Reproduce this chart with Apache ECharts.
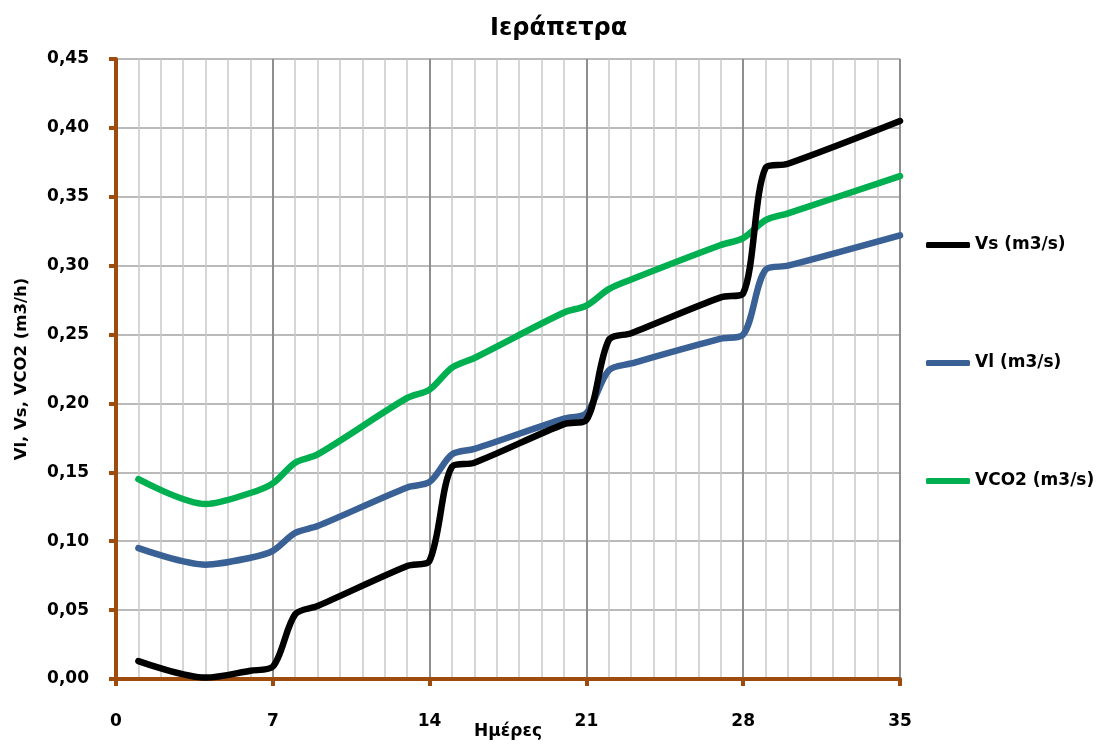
<!DOCTYPE html>
<html>
<head>
<meta charset="utf-8">
<script src="https://cdn.jsdelivr.net/npm/echarts@6/dist/echarts.min.js"></script>
<style>
  html, body { margin: 0; padding: 0; background: #fff; }
  #chart { width: 1102px; height: 745px; }
</style>
</head>
<body>
<div id="chart"></div>
<script>
// Measurement days
const days = [1, 4, 6, 7, 8, 9, 13, 14, 15, 16, 20, 21, 22, 23, 27, 28, 29, 30, 35];

// Flow rates per day
const vs   = [0.013, 0.001, 0.006, 0.009, 0.047, 0.053, 0.082, 0.086, 0.154, 0.157, 0.185, 0.188, 0.246, 0.251, 0.277, 0.280, 0.371, 0.374, 0.405];
const vl   = [0.095, 0.083, 0.088, 0.093, 0.106, 0.111, 0.139, 0.143, 0.163, 0.167, 0.189, 0.193, 0.224, 0.229, 0.247, 0.250, 0.297, 0.300, 0.322];
const vco2 = [0.145, 0.127, 0.135, 0.142, 0.157, 0.163, 0.204, 0.210, 0.226, 0.233, 0.266, 0.271, 0.283, 0.290, 0.315, 0.320, 0.333, 0.338, 0.365];

const seriesNames = ['Vs (m3/s)', 'Vl (m3/s)', 'VCO2 (m3/s)'];
const seriesColors = ['#000000', '#3A6195', '#00B050'];
const seriesValues = [vs, vl, vco2];

const titleText = 'Ιεράπετρα';
const xName = 'Ημέρες';
const yName = 'Vl, Vs, VCO2 (m3/h)';

const FONT = '"DejaVu Sans", sans-serif';
const BROWN = '#9E4C0E';

const chart = echarts.init(document.getElementById('chart'), null, { renderer: 'canvas' });

const option = {
  animation: false,
  backgroundColor: '#ffffff',
  title: {
    text: titleText,
    left: 485,
    top: 12,
    textStyle: { fontFamily: FONT, fontSize: 24, fontWeight: 'bold', color: '#000' }
  },
  legend: {
    orient: 'vertical',
    left: 921,
    top: 230,
    itemGap: 98,
    icon: 'roundRect',
    itemWidth: 44,
    itemHeight: 6,
    data: seriesNames,
    textStyle: { fontFamily: FONT, fontSize: 17, fontWeight: 'bold', color: '#000', lineHeight: 20 }
  },
  grid: { left: 116, right: 202, top: 59, bottom: 65, containLabel: false },
  xAxis: {
    type: 'value',
    min: 0,
    max: 35,
    interval: 7,
    name: xName,
    nameLocation: 'middle',
    nameGap: 44,
    nameMoveOverlap: false,
    nameTextStyle: { fontFamily: FONT, fontSize: 17, fontWeight: 'bold', color: '#000' },
    axisLine: { show: true, onZero: false, lineStyle: { color: BROWN, width: 4 } },
    axisTick: { show: true, inside: false, length: 7, lineStyle: { color: BROWN, width: 4 } },
    axisLabel: { margin: 34, fontFamily: FONT, fontSize: 17, fontWeight: 'bold', color: '#000' },
    splitLine: { show: true, lineStyle: { color: '#8E8E8E', width: 2 } },
    minorTick: { show: false, splitNumber: 7 },
    minorSplitLine: { show: true, lineStyle: { color: '#C9C9C9', width: 1.5 } }
  },
  yAxis: {
    type: 'value',
    min: 0,
    max: 0.45,
    interval: 0.05,
    name: yName,
    nameLocation: 'middle',
    nameGap: 86,
    nameTextStyle: { fontFamily: FONT, fontSize: 16.5, fontWeight: 'bold', color: '#000' },
    axisLine: { show: true, onZero: false, lineStyle: { color: BROWN, width: 4 } },
    axisTick: { show: true, inside: false, length: 7, lineStyle: { color: BROWN, width: 4 } },
    axisLabel: {
      margin: 27,
      fontFamily: FONT,
      fontSize: 17,
      fontWeight: 'bold',
      color: '#000',
      formatter: v => v.toFixed(2).replace('.', ',')
    },
    splitLine: { show: true, lineStyle: { color: '#A3A3A3', width: 1.5 } }
  },
  series: seriesNames.map((name, i) => ({
    name,
    type: 'line',
    data: days.map((d, k) => [d, seriesValues[i][k]]),
    smooth: 0.3,
    showSymbol: false,
    symbol: 'none',
    color: seriesColors[i],
    lineStyle: { color: seriesColors[i], width: 6.5, cap: 'round', join: 'round' },
    z: 5 - i
  }))
};

chart.setOption(option);
</script>
</body>
</html>
